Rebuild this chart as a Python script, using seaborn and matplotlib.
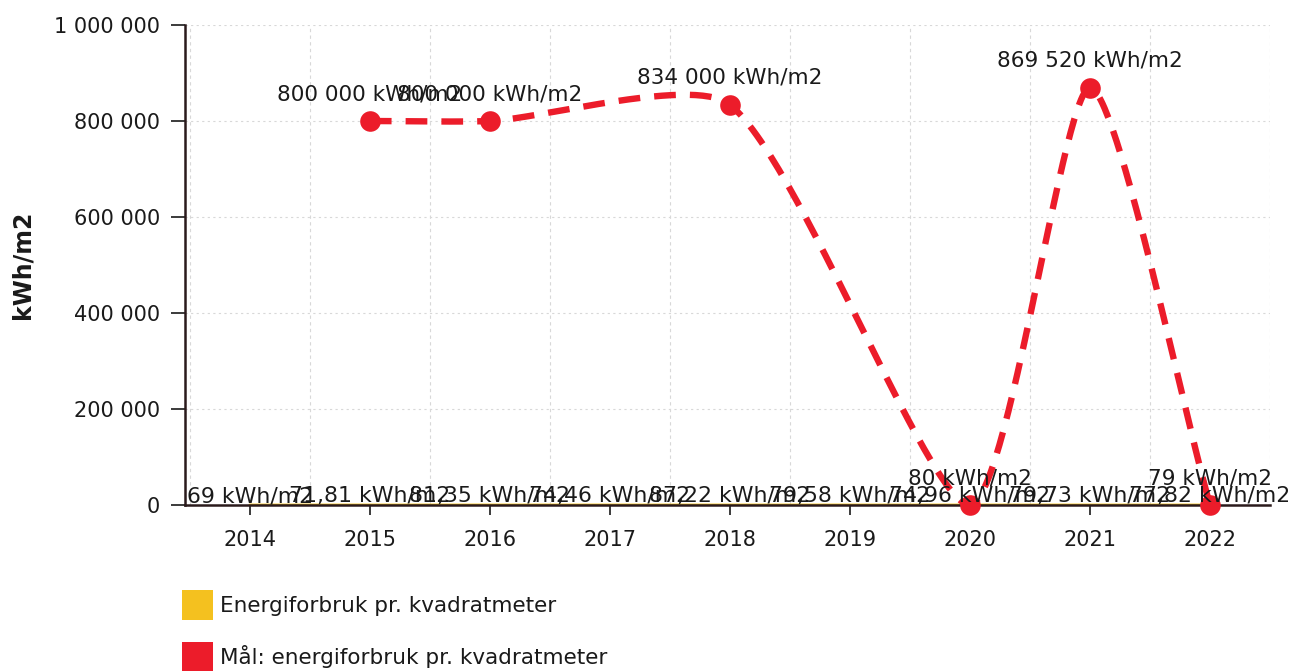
import numpy as np
import pandas as pd
import matplotlib
matplotlib.use("Agg")
import matplotlib.pyplot as plt
import seaborn as sns
from matplotlib.patches import Rectangle

years = [2014, 2015, 2016, 2017, 2018, 2019, 2020, 2021, 2022]
forbruk = [69, 71.81, 81.35, 74.46, 87.22, 79.58, 74.96, 79.73, 77.82]
maal_years = [2015, 2016, 2018, 2020, 2021, 2022]
maal = [800000, 800000, 834000, 80, 869520, 79]

RED = "#ec1c2a"
YELLOW = "#f4c11f"
TEXT = "#1a1a1a"


def fmt_num(v):
    if float(v).is_integer():
        return f"{v:,.0f}".replace(",", " ")
    return f"{v:.2f}".replace(".", ",")


def smooth_curve(ax, xs, ys, tension=0.22, n=60):
    # tension spline in screen space, control points capped to the plot area
    pts = ax.transData.transform(np.column_stack([xs, ys]))
    bb = ax.get_window_extent()
    m = len(pts)
    prev_cp = pts.copy()
    next_cp = pts.copy()
    for i in range(m):
        p = pts[i]
        a = pts[i - 1] if i > 0 else p
        b = pts[i + 1] if i < m - 1 else p
        d01 = np.hypot(*(p - a))
        d12 = np.hypot(*(b - p))
        tot = d01 + d12
        s01 = d01 / tot if tot else 0
        s12 = d12 / tot if tot else 0
        prev_cp[i] = p - tension * s01 * (b - a)
        next_cp[i] = p + tension * s12 * (b - a)
    for cp in (prev_cp, next_cp):
        cp[:, 0] = np.clip(cp[:, 0], bb.x0, bb.x1)
        cp[:, 1] = np.clip(cp[:, 1], bb.y0, bb.y1)
    t = np.linspace(0, 1, n)[:, None]
    out = []
    for i in range(1, m):
        p0, p1, p2, p3 = pts[i - 1], next_cp[i - 1], prev_cp[i], pts[i]
        out.append((1 - t) ** 3 * p0 + 3 * (1 - t) ** 2 * t * p1
                   + 3 * (1 - t) * t ** 2 * p2 + t ** 3 * p3)
    out = ax.transData.inverted().transform(np.vstack(out))
    return out[:, 0], out[:, 1]


sns.set_theme(style="white")
plt.rcParams["font.family"] = ["DejaVu Sans"]

fig = plt.figure(figsize=(12.93, 6.71), dpi=100)
ax = fig.add_axes([185 / 1293, 1 - 505 / 671, 1085 / 1293, 480 / 671])
ax.set_xlim(2013.46, 2022.5)
ax.set_ylim(0, 1000000)

df_f = pd.DataFrame({"year": years, "value": forbruk})
df_m = pd.DataFrame({"year": maal_years, "value": maal})

sns.lineplot(data=df_f, x="year", y="value", color=YELLOW, lw=2, ax=ax, zorder=1)

cx, cy = smooth_curve(ax, df_m["year"].to_numpy(float), df_m["value"].to_numpy(float))
curve = pd.DataFrame({"x": cx, "y": cy})
sns.lineplot(data=curve, x="x", y="y", sort=False, color=RED, lw=4.6, ax=ax,
             dashes=False, zorder=3)
ax.lines[-1].set_dashes((3.4, 2.2))
ax.lines[-1].set_dash_capstyle("butt")
sns.scatterplot(data=df_m, x="year", y="value", color=RED, s=220, linewidth=0,
                ax=ax, zorder=4, clip_on=False)

for x, v in zip(years, forbruk):
    ax.annotate(f"{fmt_num(v)} kWh/m2", (x, 0), xytext=(0, 2), textcoords="offset points",
                ha="center", va="baseline", fontsize=15.8, color=TEXT, zorder=5,
                annotation_clip=False)
for x, v in zip(maal_years, maal):
    ax.annotate(f"{fmt_num(v)} kWh/m2", (x, v), xytext=(0, 15), textcoords="offset points",
                ha="center", va="baseline", fontsize=15.5, color=TEXT, zorder=5,
                annotation_clip=False)

ax.set_xticks(years)
ax.set_xticklabels([str(y) for y in years])
yt = [0, 200000, 400000, 600000, 800000, 1000000]
ax.set_yticks(yt)
ax.set_yticklabels([fmt_num(v) for v in yt])
ax.tick_params(axis="both", labelsize=15, colors=TEXT, length=7, width=1.2,
               direction="out", left=True, bottom=True, pad=11)
ax.tick_params(axis="y", length=10, pad=8)

for gx in np.arange(2013.5, 2023, 1.0):
    ax.axvline(gx, color="#d8d8d8", lw=0.8, ls=(0, (3, 3)), zorder=0)
for gy in yt[1:]:
    ax.axhline(gy, color="#d8d8d8", lw=0.8, ls=(0, (2, 3)), zorder=0)

for s in ["top", "right"]:
    ax.spines[s].set_visible(False)
for s in ["left", "bottom"]:
    ax.spines[s].set_color("#2a1a1c")
    ax.spines[s].set_linewidth(1.8)

ax.set_xlabel("")
ax.set_ylabel("kWh/m2", fontsize=17, fontweight="bold", color=TEXT)
ax.yaxis.set_label_coords(-150 / 1085, 0.5)

fig.patches.append(Rectangle((182 / 1293, 1 - 620 / 671), 31 / 1293, 30 / 671,
                             transform=fig.transFigure, color=YELLOW, lw=0))
fig.patches.append(Rectangle((182 / 1293, 1 - 672 / 671), 31 / 1293, 30 / 671,
                             transform=fig.transFigure, color=RED, lw=0))
fig.text(220 / 1293, 1 - 606 / 671, "Energiforbruk pr. kvadratmeter", fontsize=15.5,
         va="center", ha="left", color=TEXT)
fig.text(220 / 1293, 1 - 657 / 671, "Mål: energiforbruk pr. kvadratmeter", fontsize=15.5,
         va="center", ha="left", color=TEXT)

fig.savefig("out.png", dpi=100)
